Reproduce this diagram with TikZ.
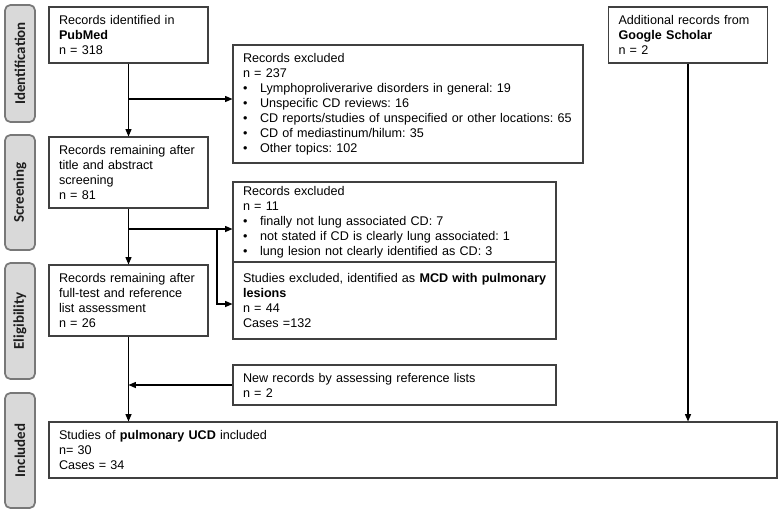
\documentclass[tikz,border=0pt]{standalone}
\usepackage{fontspec}
\setmainfont{Liberation Sans}
\newfontfamily\phasefont{Carlito}
\usepackage{tikz}
\usetikzlibrary{arrows.meta, positioning, calc}
\definecolor{boxLine}{RGB}{64,64,64}
\definecolor{phaseFill}{RGB}{217,217,217}
\definecolor{phaseLine}{RGB}{120,120,120}
\definecolor{phaseText}{RGB}{30,30,30}
\frenchspacing
\newcommand{\bitem}[1]{\mbox{\makebox[12.75pt][l]{\textbullet}#1}}
\tikzset{
    rec/.style={rectangle, draw=boxLine, line width=0.8pt, fill=white, align=left,
                inner xsep=7.5pt, inner ysep=0pt, text width=#1,
                font=\fontsize{9.45}{11.25}\selectfont},
    rec/.default=104.25pt,
    phase/.style={rectangle, rounded corners=4pt, draw=phaseLine, fill=phaseFill, line width=1.3pt,
                  minimum width=22.5pt, rotate=90, text=phaseText,
                  font=\phasefont\bfseries\fontsize{11.2}{13}\selectfont},
    arr/.style={-{Triangle[length=5.5pt, width=4.5pt]}, line width=0.8pt, black}
}
\begin{document}
\begin{tikzpicture}[x=0.75pt, y=-0.75pt]
    \useasboundingbox (0,0) rectangle (780,514);
    \node[phase, minimum width=87.75pt, minimum height=22.5pt] (pid) at (20,63.5) {Identification};
    \node[phase, minimum width=86.25pt, minimum height=22.5pt] (pscr) at (20,192.5) {Screening};
    \node[phase, minimum width=87pt, minimum height=22.5pt] (pel) at (20,321) {Eligibility};
    \node[phase, minimum width=86.25pt, minimum height=22.5pt] (pinc) at (20,450.5) {Included};

    \node[rec, minimum height=42pt] (pubmed) at (128.5,35) {Records identified in\\\textbf{PubMed}\\n = 318};
    \node[rec, minimum height=42pt] (scholar) at (688,35) {Additional records from\\\textbf{Google Scholar}\\n = 2};
    \node[rec=247.5pt, minimum height=88.5pt] (excla) at (408,104) {Records excluded\\n = 237\\
        \bitem{Lymphoproliverarive disorders in general: 19}\\
        \bitem{Unspecific CD reviews: 16}\\
        \bitem{CD reports/studies of unspecified or other locations: 65}\\
        \bitem{CD of mediastinum/hilum: 35}\\
        \bitem{Other topics: 102}};
    \node[rec, minimum height=53.25pt] (screen) at (128.5,172.5) {Records remaining after\\title and abstract\\screening\\n = 81};
    \node[rec=227.25pt, minimum height=60pt] (exclb) at (394.5,222) {Records excluded\\n = 11\\
        \bitem{finally not lung associated CD: 7}\\
        \bitem{not stated if CD is clearly lung associated: 1}\\
        \bitem{lung lesion not clearly identified as CD: 3}};
    \node[rec=227.25pt, minimum height=57.75pt] (studexcl) at (394.5,300.5) {\mbox{Studies excluded, identified as \textbf{MCD with pulmonary}}\\\textbf{lesions}\\n = 44\\Cases =132};
    \node[rec, minimum height=53.25pt] (elig) at (128.5,300.5) {Records remaining after\\full-test and reference\\list assessment\\n = 26};
    \node[rec=227.25pt, minimum height=30pt] (newrec) at (394.5,385) {New records by assessing reference lists\\n = 2};
    \node[rec=531pt, minimum height=42pt] (incl) at (413,450) {Studies of \textbf{pulmonary UCD} included\\n= 30\\Cases = 34};

    \coordinate (ka) at (128.5,99);
    \coordinate (kb) at (128.5,229);
    \coordinate (kc) at (217,229);
    \draw[arr] (pubmed) -- (screen);
    \draw[arr] (ka) -- (ka -| excla.west);
    \draw[arr] (screen) -- (elig);
    \draw[arr] (kb) -- (kb -| exclb.west);
    \draw[arr] (kc) |- ($(studexcl.west)+(0,3.5)$);
    \draw[arr] (elig) -- (elig.south |- incl.north);
    \draw[arr] (newrec.west) -- (elig.south |- newrec.west);
    \draw[arr] (scholar) -- (scholar.south |- incl.north);
\end{tikzpicture}
\end{document}
